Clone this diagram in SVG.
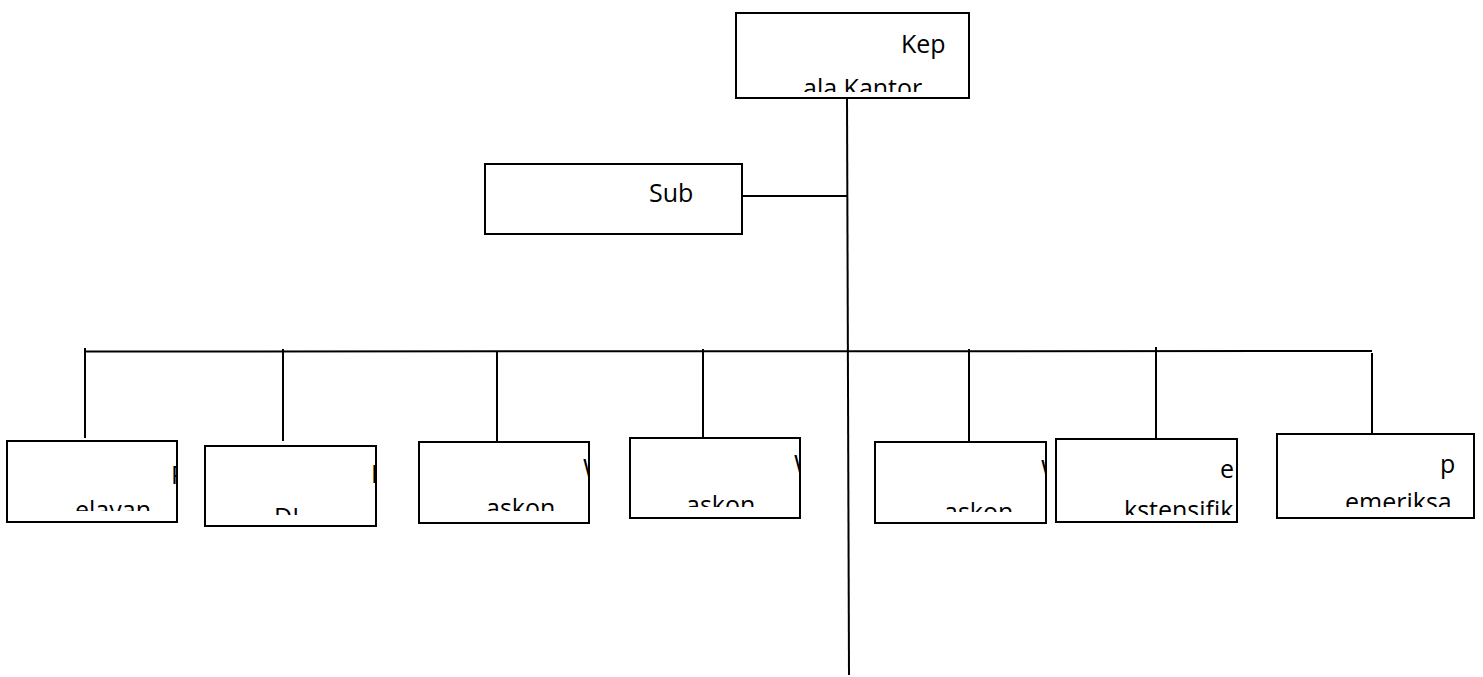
<svg xmlns="http://www.w3.org/2000/svg" width="1483" height="677" viewBox="0 0 1483 677">
<style>
.box{fill:#fff;stroke:#000;stroke-width:2}
.ln{stroke:#000;stroke-width:2;fill:none}
.t{font-family:"Open Sans","Noto Sans",sans-serif;font-size:25px;fill:#000}
</style>
<defs>
<clipPath id="c0"><rect x="736" y="14" width="232" height="78"/></clipPath>
<clipPath id="c1"><rect x="486" y="165" width="255" height="68"/></clipPath>
<clipPath id="c2"><rect x="8" y="442" width="168" height="69"/></clipPath>
<clipPath id="c3"><rect x="206" y="447" width="169" height="68"/></clipPath>
<clipPath id="c4"><rect x="420" y="443" width="168" height="68"/></clipPath>
<clipPath id="c5"><rect x="631" y="439" width="168" height="68"/></clipPath>
<clipPath id="c6"><rect x="876" y="443" width="169" height="69"/></clipPath>
<clipPath id="c7"><rect x="1057" y="440" width="179" height="75"/></clipPath>
<clipPath id="c8"><rect x="1278" y="435" width="195" height="72"/></clipPath>
</defs>
<rect width="1483" height="677" fill="#fff"/>
<g id="connectors">
<line class="ln" x1="847" y1="98" x2="849" y2="675"/>
<line class="ln" x1="742" y1="196" x2="847.5" y2="196"/>
<line class="ln" x1="85" y1="351.5" x2="1372" y2="351"/>
<line class="ln" x1="85" y1="348" x2="85" y2="438"/>
<line class="ln" x1="283" y1="349" x2="283" y2="441"/>
<line class="ln" x1="497" y1="351" x2="497" y2="445"/>
<line class="ln" x1="703" y1="349" x2="703" y2="440"/>
<line class="ln" x1="969" y1="349" x2="969" y2="449"/>
<line class="ln" x1="1156" y1="347" x2="1156" y2="439"/>
<line class="ln" x1="1372" y1="353" x2="1372" y2="437"/>
</g>
<g id="kepala">
<rect class="box" x="736" y="13" width="233" height="85"/>
<g clip-path="url(#c0)">
<text class="t" x="901" y="53">Kep</text>
<text class="t" x="803" y="97">ala Kantor</text>
</g>
</g>
<g id="sub">
<rect class="box" x="485" y="164" width="257" height="70"/>
<g clip-path="url(#c1)"><text class="t" x="649" y="202">Sub</text></g>
</g>
<g id="pelayanan">
<rect class="box" x="7" y="441" width="170" height="81"/>
<g clip-path="url(#c2)">
<text class="t" x="171" y="484">P</text>
<text class="t" x="75" y="519">elayan</text>
</g>
</g>
<g id="pdi">
<rect class="box" x="205" y="446" width="171" height="80"/>
<g clip-path="url(#c3)">
<text class="t" x="371" y="483">P</text>
<text class="t" x="274" y="526">DI</text>
</g>
</g>
<g id="waskon1">
<rect class="box" x="419" y="442" width="170" height="81"/>
<g clip-path="url(#c4)">
<text class="t" x="583" y="477">W</text>
<text class="t" x="486" y="517">askon</text>
</g>
</g>
<g id="waskon2">
<rect class="box" x="630" y="438" width="170" height="80"/>
<g clip-path="url(#c5)">
<text class="t" x="794" y="473">W</text>
<text class="t" x="686" y="514">askon</text>
</g>
</g>
<g id="waskon3">
<rect class="box" x="875" y="442" width="171" height="81"/>
<g clip-path="url(#c6)">
<text class="t" x="1041" y="478">W</text>
<text class="t" x="944" y="521">askon</text>
</g>
</g>
<g id="ekstensifikasi">
<rect class="box" x="1056" y="439" width="181" height="83"/>
<g clip-path="url(#c7)">
<text class="t" x="1220" y="478">e</text>
<text class="t" x="1124" y="519">kstensifik</text>
</g>
</g>
<g id="pemeriksaan">
<rect class="box" x="1277" y="434" width="197" height="84"/>
<g clip-path="url(#c8)">
<text class="t" x="1440" y="473">p</text>
<text class="t" x="1345" y="511">emeriksa</text>
</g>
</g>
</svg>
